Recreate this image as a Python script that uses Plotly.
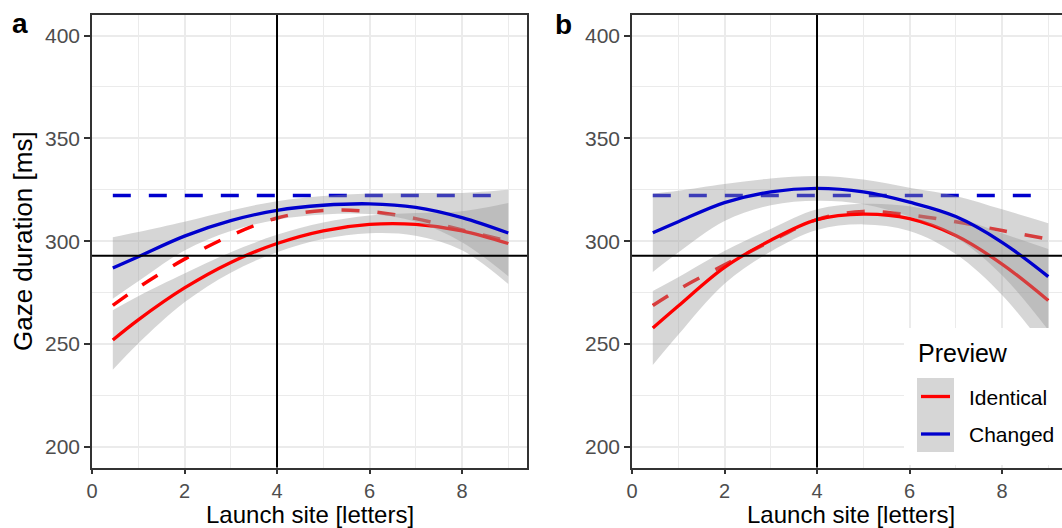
import plotly.graph_objects as go

W, H = 1062, 528

# ---------------- data ----------------
launch = [0.45, 1, 2, 3, 4, 5, 6, 7, 8, 9]
flat_x = [0.45, 9]
series_names = ["Identical", "Changed"]
x_ticks = [0, 2, 4, 6, 8]
y_ticks = [200, 250, 300, 350, 400]
ref_x = 4
ref_y = 293

# panel a
a_ident_dash = [268.8, 277.5, 291.3, 302.8, 311.3, 315.0, 314.5, 311.0, 305.5, 300.0]
a_changed_dash = [322.2, 322.2]
a_ident_fit = [252.0, 261.8, 277.3, 289.7, 298.9, 305.1, 308.2, 308.2, 305.1, 298.9]
a_ident_lo = [237.5, 250.3, 270.3, 284.7, 294.7, 301.1, 303.9, 302.7, 295.6, 279.2]
a_ident_hi = [266.5, 273.3, 284.3, 294.7, 303.1, 309.1, 312.5, 313.7, 314.6, 318.6]
a_changed_fit = [287.0, 292.5, 302.5, 310.0, 315.0, 317.5, 318.2, 316.5, 311.5, 304.0]
a_changed_lo = [272.0, 280.5, 295.5, 305.0, 310.5, 313.0, 313.2, 309.5, 299.5, 283.0]
a_changed_hi = [302.0, 304.5, 309.5, 315.0, 319.5, 322.0, 323.2, 323.5, 323.5, 325.0]

# panel b
b_ident_dash = [268.8, 276.5, 288.5, 300.0, 310.5, 314.5, 312.8, 309.5, 305.2, 301.0]
b_changed_dash = [322.2, 322.2]
b_ident_fit = [257.8, 268.5, 287.3, 300.5, 310.5, 313.2, 311.0, 302.8, 288.9, 271.2]
b_ident_lo = [239.8, 254.5, 279.3, 295.0, 305.5, 308.2, 305.0, 293.8, 273.9, 246.2]
b_ident_hi = [275.8, 282.5, 295.3, 306.0, 315.5, 318.2, 317.0, 311.8, 303.9, 296.2]
b_changed_fit = [304.1, 309.5, 318.8, 324.0, 325.7, 324.0, 319.0, 312.0, 299.5, 282.8]
b_changed_lo = [285.1, 294.5, 309.8, 317.5, 319.7, 318.0, 312.0, 302.0, 283.5, 256.8]
b_changed_hi = [323.1, 324.5, 327.8, 330.5, 331.7, 330.0, 326.0, 322.0, 315.5, 308.8]

# ---------------- styling ----------------
RED = "#FF0000"
BLUE = "#0000CD"
RIB = "rgba(153,153,153,0.4)"
FONT = "Liberation Sans, Arial, sans-serif"
GRID = "#EBEBEB"
AX = "#333333"


def px(x):
    return x / W


def py(y):
    return 1 - y / H


fig = go.Figure()


def add_panel(xa, ya, ident_dash, changed_dash, i_fit, i_lo, i_hi, c_fit, c_lo, c_hi):
    common = dict(xaxis=xa, yaxis=ya, showlegend=False, hoverinfo="skip")
    fig.add_trace(go.Scatter(x=launch, y=ident_dash, mode="lines",
                             line=dict(color=RED, width=3.5, dash="18px,18px", shape="spline"),
                             **common))
    fig.add_trace(go.Scatter(x=flat_x, y=changed_dash, mode="lines",
                             line=dict(color=BLUE, width=3.5, dash="18px,18px"),
                             **common))
    for fit, lo, hi, col in [(i_fit, i_lo, i_hi, RED), (c_fit, c_lo, c_hi, BLUE)]:
        fig.add_trace(go.Scatter(x=launch, y=lo, mode="lines",
                                 line=dict(width=0, shape="spline"), **common))
        fig.add_trace(go.Scatter(x=launch, y=hi, mode="lines", fill="tonexty",
                                 fillcolor=RIB, line=dict(width=0, shape="spline"),
                                 **common))
        fig.add_trace(go.Scatter(x=launch, y=fit, mode="lines",
                                 line=dict(color=col, width=3.3, shape="spline"),
                                 **common))


add_panel("x", "y", a_ident_dash, a_changed_dash, a_ident_fit, a_ident_lo, a_ident_hi,
          a_changed_fit, a_changed_lo, a_changed_hi)
add_panel("x2", "y2", b_ident_dash, b_changed_dash, b_ident_fit, b_ident_lo, b_ident_hi,
          b_changed_fit, b_changed_lo, b_changed_hi)

unit = 435 / 9.405


def xaxis(dom, rng, anchor):
    return dict(domain=dom, range=rng, anchor=anchor, tickvals=x_ticks,
                ticktext=[str(v) for v in x_ticks],
                showgrid=True, gridcolor=GRID, gridwidth=1.6,
                minor=dict(tickvals=[1, 3, 5, 7, 9], showgrid=True, gridcolor=GRID,
                           gridwidth=0.9, ticks=""),
                showline=True, linecolor=AX, linewidth=1.5, mirror=True,
                ticks="outside", ticklen=5, tickwidth=1.5, tickcolor=AX,
                tickfont=dict(family=FONT, size=20, color="#4D4D4D"),
                zeroline=False, automargin=False, fixedrange=True)


def yaxis(anchor, mirror):
    return dict(domain=[py(467.5), py(15)], range=[190, 410], anchor=anchor,
                tickvals=y_ticks, ticktext=[str(v) for v in y_ticks],
                showgrid=True, gridcolor=GRID, gridwidth=1.6,
                minor=dict(tickvals=[225, 275, 325, 375], showgrid=True, gridcolor=GRID,
                           gridwidth=0.9, ticks=""),
                showline=True, linecolor=AX, linewidth=1.5, mirror=mirror,
                ticks="outside", ticklen=6, tickwidth=1.5, tickcolor=AX,
                tickfont=dict(family=FONT, size=21, color="#4D4D4D"),
                zeroline=False, automargin=False, fixedrange=True)


shapes = []
for xr, yr in [("x", "y"), ("x2", "y2")]:
    shapes.append(dict(type="line", xref=xr, yref=yr + " domain", x0=ref_x, x1=ref_x,
                       y0=0, y1=1, line=dict(color="black", width=2), layer="above"))
    shapes.append(dict(type="line", xref=xr + " domain", yref=yr, x0=0, x1=1,
                       y0=ref_y, y1=ref_y, line=dict(color="black", width=2), layer="above"))

# legend box (drawn inside panel b)
shapes.append(dict(type="rect", xref="paper", yref="paper", x0=px(904), x1=1.0,
                   y0=py(465), y1=py(328), fillcolor="white", line=dict(width=0),
                   layer="above"))
shapes.append(dict(type="rect", xref="paper", yref="paper", x0=px(917), x1=px(954),
                   y0=py(452), y1=py(378), fillcolor="#D6D6D6", line=dict(width=0),
                   layer="above"))
for ky, col in [(396.5, RED), (434, BLUE)]:
    shapes.append(dict(type="line", xref="paper", yref="paper", x0=px(921), x1=px(950),
                       y0=py(ky), y1=py(ky), line=dict(color=col, width=3.3),
                       layer="above"))

annotations = [
    dict(text="<b>a</b>", x=px(10), y=py(23.8), xanchor="left", yanchor="middle",
         font=dict(family=FONT, size=28, color="black")),
    dict(text="<b>b</b>", x=px(553), y=py(24.3), xanchor="left", yanchor="middle",
         font=dict(family=FONT, size=28, color="black")),
    dict(text="Gaze duration [ms]", textangle=-90, x=px(23), y=py(241),
         xanchor="center", yanchor="middle", font=dict(family=FONT, size=26, color="black")),
    dict(text="Launch site [letters]", x=px(310), y=py(514.8), xanchor="center",
         yanchor="middle", borderpad=0, font=dict(family=FONT, size=24, color="black")),
    dict(text="Launch site [letters]", x=px(851), y=py(514.8), xanchor="center",
         yanchor="middle", borderpad=0, font=dict(family=FONT, size=24, color="black")),
    dict(text="Preview", x=px(916), y=py(353.3), xanchor="left", yanchor="middle",
         font=dict(family=FONT, size=25, color="black")),
    dict(text=series_names[0], x=px(967), y=py(397.1), xanchor="left", yanchor="middle",
         font=dict(family=FONT, size=21, color="black")),
    dict(text=series_names[1], x=px(967), y=py(434), xanchor="left", yanchor="middle",
         font=dict(family=FONT, size=21, color="black")),
]
for an in annotations:
    an.update(xref="paper", yref="paper", showarrow=False)

fig.update_layout(
    width=W, height=H, autosize=False,
    margin=dict(l=0, r=0, t=0, b=0, pad=0),
    paper_bgcolor="white", plot_bgcolor="white",
    showlegend=False,
    xaxis=xaxis([px(92), px(527)], [0, 9.405], "y"),
    xaxis2=xaxis([px(632), 1.0], [0, (W - 632) / unit], "y2"),
    yaxis=yaxis("x", True),
    yaxis2=yaxis("x2", False),
    shapes=shapes,
    annotations=annotations,
    font=dict(family=FONT),
)

fig.write_html("out.html")
